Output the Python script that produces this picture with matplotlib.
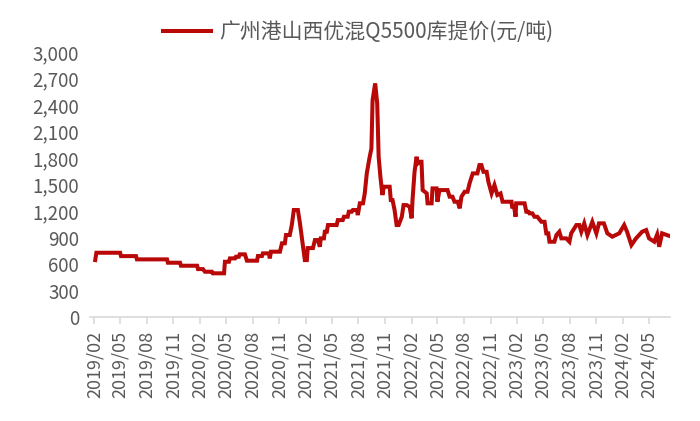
import matplotlib
matplotlib.use("Agg")
import matplotlib.pyplot as plt
import matplotlib.dates as mdates
import matplotlib.ticker as mticker
import pandas as pd

plt.rcParams['font.family'] = ['Noto Sans CJK SC', 'DejaVu Sans']

# %% data
dates = [
    "2019-02-04", "2019-02-08", "2019-05-01", "2019-05-04", "2019-06-25", "2019-06-28",
    "2019-10-10", "2019-10-13", "2019-11-24", "2019-11-27", "2020-01-22", "2020-01-25",
    "2020-02-11", "2020-02-18", "2020-03-13", "2020-03-16", "2020-04-24", "2020-04-27",
    "2020-05-11", "2020-05-14", "2020-06-01", "2020-06-04", "2020-06-14", "2020-06-17",
    "2020-07-05", "2020-07-12", "2020-08-16", "2020-08-19", "2020-09-02", "2020-09-05",
    "2020-09-26", "2020-09-29", "2020-10-03", "2020-11-03", "2020-11-10", "2020-11-20",
    "2020-11-24", "2020-12-07", "2020-12-14", "2020-12-21", "2021-01-04", "2021-01-11",
    "2021-01-18", "2021-01-28", "2021-02-04", "2021-02-07", "2021-02-25", "2021-03-04",
    "2021-03-14", "2021-03-21", "2021-03-24", "2021-04-04", "2021-04-07", "2021-04-14",
    "2021-04-18", "2021-05-18", "2021-05-22", "2021-06-08", "2021-06-12", "2021-06-25",
    "2021-06-29", "2021-07-09", "2021-07-13", "2021-07-27", "2021-07-30", "2021-08-06",
    "2021-08-17", "2021-08-23", "2021-08-30", "2021-09-08", "2021-09-15", "2021-09-19",
    "2021-09-28", "2021-10-05", "2021-10-10", "2021-10-16", "2021-10-23", "2021-10-28",
    "2021-11-17", "2021-11-21", "2021-11-27", "2021-12-04", "2021-12-11", "2021-12-18",
    "2021-12-29", "2022-01-04", "2022-01-15", "2022-01-25", "2022-02-01", "2022-02-04",
    "2022-02-11", "2022-02-18", "2022-02-22", "2022-03-01", "2022-03-07", "2022-03-11",
    "2022-03-25", "2022-03-28", "2022-04-11", "2022-04-14", "2022-04-28", "2022-05-01",
    "2022-05-08", "2022-06-05", "2022-06-12", "2022-06-22", "2022-06-29", "2022-07-10",
    "2022-07-17", "2022-07-23", "2022-08-03", "2022-08-13", "2022-08-20", "2022-08-31",
    "2022-09-16", "2022-09-23", "2022-09-30", "2022-10-07", "2022-10-18", "2022-10-24",
    "2022-11-04", "2022-11-14", "2022-11-24", "2022-12-05", "2022-12-12", "2023-01-12",
    "2023-01-14", "2023-01-21", "2023-01-26", "2023-01-28", "2023-02-26", "2023-03-04",
    "2023-03-11", "2023-03-15", "2023-03-25", "2023-04-01", "2023-04-11", "2023-04-25",
    "2023-05-06", "2023-05-12", "2023-05-19", "2023-05-23", "2023-06-09", "2023-06-16",
    "2023-06-26", "2023-07-03", "2023-07-20", "2023-07-31", "2023-08-06", "2023-08-24",
    "2023-09-03", "2023-09-10", "2023-09-20", "2023-10-01", "2023-10-18", "2023-11-01",
    "2023-11-10", "2023-11-18", "2023-11-27", "2023-12-09", "2023-12-26", "2024-01-19",
    "2024-02-05", "2024-02-15", "2024-03-01", "2024-03-17", "2024-04-07", "2024-04-21",
    "2024-05-01", "2024-05-19", "2024-05-29", "2024-06-05", "2024-06-15", "2024-07-09",
]
prices = [
    645, 728, 728, 690, 690, 653,
    653, 615, 615, 581, 581, 543,
    543, 513, 513, 495, 495, 626,
    626, 664, 664, 683, 683, 710,
    710, 638, 638, 691, 691, 721,
    721, 664, 740, 740, 835, 835,
    929, 929, 1042, 1212, 1212, 1065,
    895, 645, 645, 781, 781, 872,
    872, 796, 891, 891, 966, 966,
    1042, 1042, 1098, 1098, 1136, 1136,
    1193, 1193, 1212, 1212, 1155, 1288,
    1288, 1401, 1627, 1797, 1910, 2457,
    2647, 2420, 1816, 1589, 1382, 1476,
    1476, 1325, 1325, 1212, 1042, 1042,
    1136, 1268, 1268, 1249, 1118, 1325,
    1645, 1816, 1740, 1759, 1759, 1438,
    1401, 1288, 1288, 1457, 1457, 1306,
    1438, 1438, 1363, 1363, 1306, 1306,
    1231, 1363, 1419, 1419, 1514, 1627,
    1627, 1721, 1721, 1645, 1645, 1532,
    1401, 1495, 1382, 1400, 1306, 1306,
    1249, 1249, 1136, 1288, 1288, 1193,
    1193, 1174, 1174, 1136, 1136, 1079,
    1079, 948, 948, 853, 853, 929,
    966, 891, 891, 853, 948, 1042,
    1042, 966, 1061, 929, 1079, 948,
    1061, 1061, 1061, 948, 910, 948,
    1042, 966, 815, 891, 966, 985,
    891, 853, 935, 796, 948, 920,
]
series_name = "广州港山西优混Q5500库提价(元/吨)"
y_ticks = [0, 300, 600, 900, 1200, 1500, 1800, 2100, 2400, 2700, 3000]

df = pd.DataFrame({"date": pd.to_datetime(dates), "price": prices})

# %% plot
fig = plt.figure(figsize=(7, 4.21), dpi=100)
ax = fig.add_axes([0.129, 0.247, 0.828, 0.629])

ax.plot(df["date"], df["price"], color="#B80808", linewidth=2.9,
        solid_joinstyle="miter", label=series_name)

ax.set_ylim(0, 3000)
ax.set_yticks(y_ticks)
ax.yaxis.set_major_formatter(mticker.StrMethodFormatter("{x:,.0f}"))
ax.set_xlim(pd.Timestamp("2019-01-18"), pd.Timestamp("2024-07-12"))
ax.xaxis.set_major_locator(mdates.MonthLocator(bymonth=[2, 5, 8, 11]))
ax.xaxis.set_major_formatter(mdates.DateFormatter("%Y/%m"))

for side in ["top", "right", "left"]:
    ax.spines[side].set_visible(False)
ax.spines["bottom"].set_color("#d9d9d9")
ax.spines["bottom"].set_linewidth(1.2)
ax.tick_params(axis="y", length=0, labelsize=13.5, labelcolor="#595959", pad=8)
ax.tick_params(axis="x", length=5, width=1.2, color="#d9d9d9", labelsize=13,
               labelcolor="#595959", labelrotation=90, pad=5)

leg = ax.legend(loc="center", bbox_to_anchor=(0.462, 1.076), frameon=False,
                fontsize=15, handlelength=2.3, handletextpad=0.4)
for t in leg.get_texts():
    t.set_color("#595959")

fig.savefig("out.png", dpi=100)
